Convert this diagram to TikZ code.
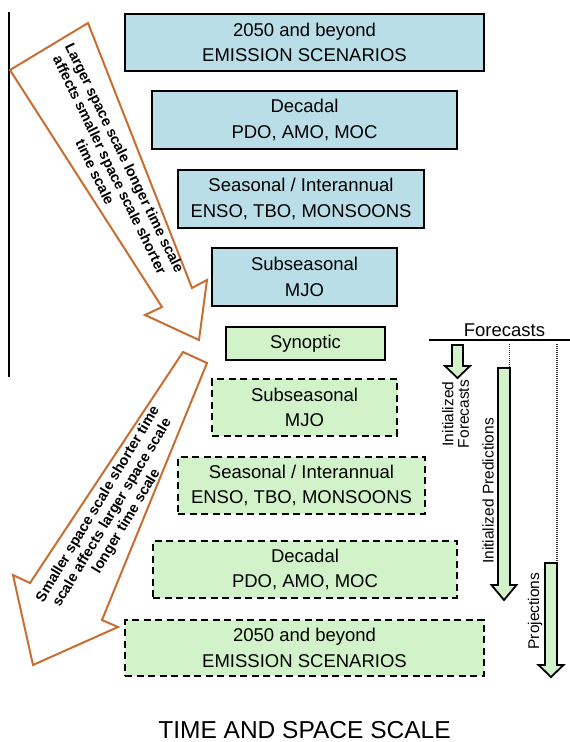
\documentclass[tikz,border=0pt]{standalone}
\usepackage{fontspec}
\setmainfont{Liberation Sans}
\definecolor{boxblue}{RGB}{185,222,231}
\definecolor{boxgreen}{RGB}{210,243,201}
\definecolor{arroworange}{RGB}{200,110,50}
\newcommand{\grarrow}[5]{%
  \draw[garrow] ({#1-#2},#3) -- ({#1+#2},#3) -- ({#1+#2},#4) -- ({#1+12.5},#4) -- (#1,#5) -- ({#1-12.5},#4) -- ({#1-#2},#4) -- cycle;}
\begin{document}
\begin{tikzpicture}[x=1pt,y=-1pt,
  box/.style={draw=black, line width=2.4pt, align=center, inner sep=0pt,
    font=\fontsize{18.5}{25.5}\selectfont},
  bluebox/.style={box, fill=boxblue},
  greenbox/.style={box, fill=boxgreen},
  dashbox/.style={greenbox, dash pattern=on 7pt off 4.5pt},
  orangearrow/.style={draw=arroworange, line width=2pt, fill=white, line join=miter},
  arrowtext/.style={align=center, inner sep=0pt, font=\bfseries\fontsize{14.5}{16.5}\selectfont},
  garrow/.style={draw=black, line width=1.8pt, fill=boxgreen, line join=miter},
  sidelabel/.style={align=center, inner sep=0pt, rotate=90, font=\fontsize{15.5}{15.5}\selectfont},
  dotline/.style={dash pattern=on 1pt off 1pt, line width=1.6pt, draw=black!80}]
\useasboundingbox (0,0) rectangle (570,742);

% left vertical line
\coordinate (vt) at (9,12);
\coordinate (vb) at (9,377);
\draw[line width=1.5pt] (vt) -- (vb);

% blue boxes
\node[bluebox, minimum width=358.6pt, minimum height=56.6pt] (b1) at (304.5,42.5) {2050 and beyond\\EMISSION SCENARIOS};
\node[bluebox, minimum width=304.6pt, minimum height=57.6pt] (b2) at (304.5,120) {Decadal\\PDO, AMO, MOC};
\node[bluebox, minimum width=245.6pt, minimum height=57.6pt] (b3) at (301,199) {Seasonal / Interannual\\ENSO, TBO, MONSOONS};
\node[bluebox, minimum width=184.6pt, minimum height=57.6pt] (b4) at (304.5,277) {Subseasonal\\MJO};
% synoptic
\node[greenbox, minimum width=158.6pt, minimum height=32.6pt] (syn) at (305.5,343.5) {Synoptic};
% dashed green boxes
\node[dashbox, minimum width=184.6pt, minimum height=56.6pt] (d4) at (304.5,407.5) {Subseasonal\\MJO};
\node[dashbox, minimum width=246.6pt, minimum height=56.6pt] (d3) at (301.5,485.5) {Seasonal / Interannual\\ENSO, TBO, MONSOONS};
\node[dashbox, minimum width=303.6pt, minimum height=56.6pt] (d2) at (305,569.5) {Decadal\\PDO, AMO, MOC};
\node[dashbox, minimum width=358.6pt, minimum height=55.6pt] (d1) at (304.5,648) {2050 and beyond\\EMISSION SCENARIOS};

% title
\node[anchor=base, inner sep=0pt, font=\fontsize{24.5}{28}\selectfont] (title) at (304.5,738.5) {TIME AND SPACE SCALE};

% orange arrows
\draw[orangearrow] (10,70) -- (88,23) -- (192,288) -- (207,280) -- (199,340) -- (145,315) -- (162,307) -- cycle;
\node[arrowtext, rotate=-64] (t1) at (110,165) {Larger space scale longer time scale\\affects smaller space scale shorter\\time scale};
\draw[orangearrow] (183,352) -- (207,363) -- (102,620) -- (118,627) -- (33,665) -- (13,575) -- (30,583) -- cycle;
\node[arrowtext, rotate=59] (t2) at (112.5,513) {Smaller space scale shorter time\\scale affects larger space scale\\longer time scale};

% forecasts
\node[anchor=base, inner sep=0pt, font=\fontsize{18.5}{22}\selectfont] (fc) at (504.5,336) {Forecasts};
\coordinate (fl) at (429,340);
\coordinate (fr) at (570,340);
\draw[line width=2pt] (fl) -- (fr);

% dotted guide lines
\coordinate (p1a) at (509.5,344);
\coordinate (p1b) at (509.5,368);
\coordinate (p2a) at (557,344);
\coordinate (p2b) at (557,563);
\draw[dotline] (p1a) -- (p1b);
\draw[dotline] (p2a) -- (p2b);

% green arrows
\grarrow{457.5}{5.5}{345}{366}{378}
\grarrow{504}{6}{368}{585}{600}
\grarrow{551}{6}{563}{665}{677}

% side labels
\node[sidelabel] (lf) at (455.5,414) {Initialized\\Forecasts};
\node[sidelabel] (lp) at (488,491) {Initialized Predictions};
\node[sidelabel] (lj) at (535,611) {Projections};
\end{tikzpicture}
\end{document}
